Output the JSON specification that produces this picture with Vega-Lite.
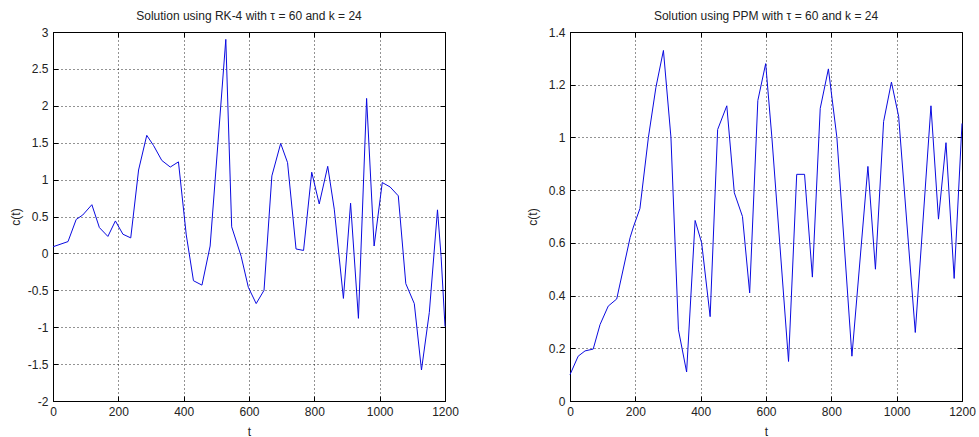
{
  "$schema": "https://vega.github.io/schema/vega-lite/v6.json",
  "padding": {"left": 8, "top": 9, "right": 5, "bottom": 0},
  "background": "white",
  "bounds": "flush",
  "spacing": 125,
  "datasets": {
    "rk4": [
      {"t": 0, "c": 0.09}, {"t": 46, "c": 0.16}, {"t": 71, "c": 0.46}, {"t": 91, "c": 0.52},
      {"t": 119, "c": 0.66}, {"t": 142, "c": 0.35}, {"t": 168, "c": 0.23}, {"t": 191, "c": 0.44},
      {"t": 214, "c": 0.26}, {"t": 238, "c": 0.21}, {"t": 262, "c": 1.13}, {"t": 287, "c": 1.6},
      {"t": 308, "c": 1.46}, {"t": 333, "c": 1.26}, {"t": 359, "c": 1.17}, {"t": 384, "c": 1.24},
      {"t": 408, "c": 0.25}, {"t": 430, "c": -0.37}, {"t": 456, "c": -0.43}, {"t": 481, "c": 0.1},
      {"t": 529, "c": 2.9}, {"t": 547, "c": 0.36}, {"t": 576, "c": -0.04}, {"t": 598, "c": -0.46},
      {"t": 622, "c": -0.68}, {"t": 646, "c": -0.5}, {"t": 670, "c": 1.05}, {"t": 697, "c": 1.49},
      {"t": 718, "c": 1.23}, {"t": 744, "c": 0.06}, {"t": 767, "c": 0.04}, {"t": 792, "c": 1.1},
      {"t": 815, "c": 0.67}, {"t": 841, "c": 1.18}, {"t": 861, "c": 0.6}, {"t": 889, "c": -0.61},
      {"t": 911, "c": 0.68}, {"t": 935, "c": -0.88}, {"t": 960, "c": 2.1}, {"t": 983, "c": 0.1},
      {"t": 1008, "c": 0.96}, {"t": 1032, "c": 0.9}, {"t": 1057, "c": 0.78}, {"t": 1080, "c": -0.41},
      {"t": 1106, "c": -0.68}, {"t": 1128, "c": -1.58}, {"t": 1152, "c": -0.8}, {"t": 1177, "c": 0.59},
      {"t": 1188, "c": -0.04}, {"t": 1200, "c": -0.99}
    ],
    "ppm": [
      {"t": 0, "c": 0.1}, {"t": 25, "c": 0.17}, {"t": 46, "c": 0.19}, {"t": 71, "c": 0.197},
      {"t": 92, "c": 0.29}, {"t": 117, "c": 0.36}, {"t": 143, "c": 0.387}, {"t": 184, "c": 0.62},
      {"t": 194, "c": 0.66}, {"t": 214, "c": 0.73}, {"t": 240, "c": 1.0}, {"t": 263, "c": 1.19},
      {"t": 286, "c": 1.33}, {"t": 309, "c": 1.0}, {"t": 332, "c": 0.27}, {"t": 357, "c": 0.11},
      {"t": 383, "c": 0.685}, {"t": 403, "c": 0.6}, {"t": 429, "c": 0.32}, {"t": 452, "c": 1.03},
      {"t": 480, "c": 1.12}, {"t": 503, "c": 0.79}, {"t": 528, "c": 0.7}, {"t": 550, "c": 0.41},
      {"t": 575, "c": 1.14}, {"t": 599, "c": 1.28}, {"t": 618, "c": 1.0}, {"t": 669, "c": 0.15},
      {"t": 694, "c": 0.86}, {"t": 718, "c": 0.86}, {"t": 742, "c": 0.47}, {"t": 766, "c": 1.11},
      {"t": 791, "c": 1.26}, {"t": 817, "c": 1.0}, {"t": 863, "c": 0.17}, {"t": 912, "c": 0.89},
      {"t": 935, "c": 0.5}, {"t": 960, "c": 1.06}, {"t": 984, "c": 1.21}, {"t": 1006, "c": 1.08},
      {"t": 1057, "c": 0.26}, {"t": 1105, "c": 1.12}, {"t": 1128, "c": 0.69}, {"t": 1151, "c": 0.98},
      {"t": 1176, "c": 0.465}, {"t": 1200, "c": 1.053}
    ]
  },
  "hconcat": [
    {
      "width": 392,
      "height": 369,
      "title": {"text": "Solution using RK-4 with τ = 60 and k = 24"},
      "data": {"name": "rk4"},
      "layer": [
        {
          "mark": {"type": "line", "color": "#0a0ae0", "strokeWidth": 1},
          "encoding": {
            "x": {"field": "t", "type": "quantitative", "scale": {"domain": [0, 1200], "nice": false, "zero": false},
                  "axis": {"title": "t", "values": [0, 200, 400, 600, 800, 1000, 1200], "labelExpr": "'' + datum.value"}},
            "y": {"field": "c", "type": "quantitative", "scale": {"domain": [-2, 3], "nice": false, "zero": false},
                  "axis": {"title": "c(t)", "values": [-2, -1.5, -1, -0.5, 0, 0.5, 1, 1.5, 2, 2.5, 3], "labelExpr": "'' + datum.value"}}
          }
        },
        {
          "mark": {"type": "line", "opacity": 0},
          "encoding": {
            "x": {"field": "t", "type": "quantitative", "scale": {"domain": [0, 1200], "nice": false, "zero": false},
                  "axis": {"orient": "top", "title": null, "labels": false, "grid": false, "labelPadding": 0, "values": [0, 200, 400, 600, 800, 1000, 1200], "minExtent": 0, "maxExtent": 0}},
            "y": {"field": "c", "type": "quantitative", "scale": {"domain": [-2, 3], "nice": false, "zero": false},
                  "axis": {"orient": "right", "title": null, "labels": false, "grid": false, "labelPadding": 0, "values": [-2, -1.5, -1, -0.5, 0, 0.5, 1, 1.5, 2, 2.5, 3], "minExtent": 0, "maxExtent": 0}}
          }
        }
      ],
      "resolve": {"axis": {"x": "independent", "y": "independent"}}
    },
    {
      "width": 392,
      "height": 369,
      "title": {"text": "Solution using PPM with τ = 60 and k = 24"},
      "data": {"name": "ppm"},
      "layer": [
        {
          "mark": {"type": "line", "color": "#0a0ae0", "strokeWidth": 1},
          "encoding": {
            "x": {"field": "t", "type": "quantitative", "scale": {"domain": [0, 1200], "nice": false, "zero": false},
                  "axis": {"title": "t", "values": [0, 200, 400, 600, 800, 1000, 1200], "labelExpr": "'' + datum.value"}},
            "y": {"field": "c", "type": "quantitative", "scale": {"domain": [0, 1.4], "nice": false, "zero": false},
                  "axis": {"title": "c(t)", "values": [0, 0.2, 0.4, 0.6, 0.8, 1, 1.2, 1.4], "labelExpr": "'' + datum.value"}}
          }
        },
        {
          "mark": {"type": "line", "opacity": 0},
          "encoding": {
            "x": {"field": "t", "type": "quantitative", "scale": {"domain": [0, 1200], "nice": false, "zero": false},
                  "axis": {"orient": "top", "title": null, "labels": false, "grid": false, "labelPadding": 0, "values": [0, 200, 400, 600, 800, 1000, 1200], "minExtent": 0, "maxExtent": 0}},
            "y": {"field": "c", "type": "quantitative", "scale": {"domain": [0, 1.4], "nice": false, "zero": false},
                  "axis": {"orient": "right", "title": null, "labels": false, "grid": false, "labelPadding": 0, "values": [0, 0.2, 0.4, 0.6, 0.8, 1, 1.2, 1.4], "minExtent": 0, "maxExtent": 0}}
          }
        }
      ],
      "resolve": {"axis": {"x": "independent", "y": "independent"}}
    }
  ],
  "config": {
    "view": {"stroke": "#000", "strokeWidth": 1},
    "axis": {
      "labelFont": "Liberation Sans", "labelFontSize": 12, "labelColor": "#222",
      "titleFont": "Liberation Sans", "titleFontSize": 12, "titleFontWeight": "normal", "titleColor": "#222",
      "domain": false, "ticks": true, "tickColor": "#000", "tickSize": -5, "labelPadding": 10,
      "grid": true, "gridColor": "#000", "gridDash": [1, 3], "gridOpacity": 0.85, "gridWidth": 1
    },
    "axisY": {"minExtent": 25, "maxExtent": 25, "titlePadding": 6},
    "axisX": {"titlePadding": 9, "labelPadding": 10, "labelFlush": false},
    "title": {"font": "Liberation Sans", "fontSize": 12, "fontWeight": "normal", "color": "#222", "offset": 3}
  }
}
